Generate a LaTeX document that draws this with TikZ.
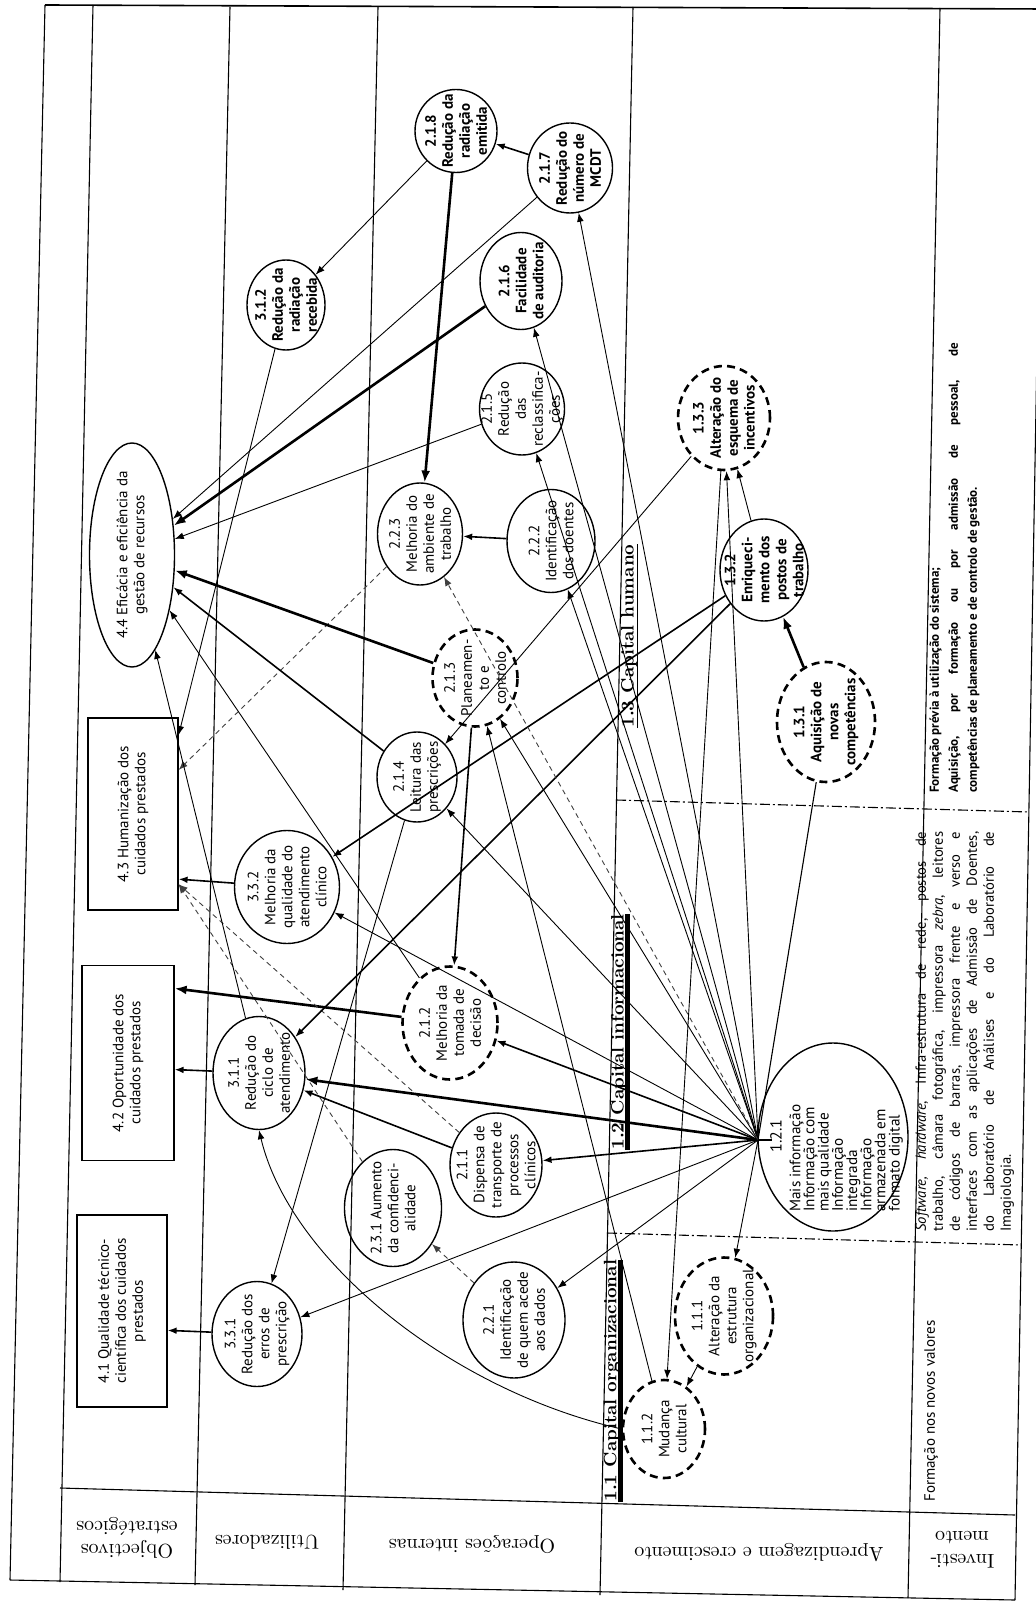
\documentclass[tikz,border=0pt]{standalone}
\usepackage{fontspec}
\newfontfamily\nodefont{PT Sans}
\usetikzlibrary{arrows.meta,shapes.geometric}
\begin{document}
\begin{tikzpicture}[x=0.5pt,y=-0.5pt,
  tline/.style={line width=0.55pt},
  sline/.style={line width=0.55pt, dash pattern=on 5pt off 1.5pt on 1pt off 1.5pt},
  ellnode/.style 2 args={draw, ellipse, line width=0.7pt, minimum width=#1*0.5pt, minimum height=#2*0.5pt, inner sep=0pt},
  dellnode/.style 2 args={draw, ellipse, line width=1.3pt, dash pattern=on 4pt off 2.6pt, minimum width=#1*0.5pt, minimum height=#2*0.5pt, inner sep=0pt},
  boxnode/.style 2 args={draw, rectangle, line width=0.6pt, minimum width=#1*0.5pt, minimum height=#2*0.5pt, inner sep=0pt},
  txt/.style={rotate=90, align=center, inner sep=0pt, font=\nodefont\fontsize{7.5}{8.5}\selectfont},
  txtb/.style={txt, font=\nodefont\bfseries\fontsize{7.5}{8.5}\selectfont},
  rowlab/.style={rotate=180, align=center, inner sep=0pt, font=\fontsize{10}{11.5}\selectfont},
  seclab/.style={rotate=90, anchor=west, inner sep=0pt, font=\bfseries\fontsize{9}{10}\selectfont},
  invtxt/.style={rotate=90, anchor=north west, inner sep=0pt},
  arrowtip/.style={-{Latex[length=4.5pt,width=3.4pt]}},
  con/.style={arrowtip, line width=0.45pt},
  conm/.style={arrowtip, line width=0.8pt},
  conk/.style={-{Latex[length=6pt,width=4.5pt]}, line width=1.3pt},
  cond/.style={arrowtip, line width=0.45pt, dash pattern=on 2.5pt off 2pt, black!75},
]
\fill[white] (0,0) rectangle (1036,1609);
\useasboundingbox (0,0) rectangle (1036,1609);

% ---------- table frame ----------
\draw[line width=0.8pt] (45,5) -- (1043,9);
\draw[tline] (45,5) -- (10,1580);
\draw[tline] (10,1580) -- (1015,1600);
\draw[tline] (1043,9) -- (1015,1600);
\draw[tline] (93,5) -- (60,1582);
\draw[tline] (230,7) -- (195,1585);
\draw[tline] (378,7) -- (343,1590);
\draw[tline] (633,7) -- (600,1595);
\draw[tline] (940,8) -- (908,1598);
\draw[tline] (60,1488) -- (1015,1515);
\draw[sline] (616,800) -- (1029,812);
\draw[sline] (607,1233) -- (1021,1245);

% ---------- row labels ----------
\node[rowlab] (r1) at (127,1538) {Objectivos\\estratégicos};
\node[rowlab] (r2) at (267,1542) {Utilizadores};
\node[rowlab] (r3) at (472,1545) {Operações internas};
\node[rowlab] (r4) at (759,1553) {Aprendizagem e crescimento};
\node[rowlab] (r5) at (962,1550) {Investi-\\mento};

% ---------- strategic objectives ----------
\node[ellnode={85}{224}] (n44) at (132,555) {};
\node[txt] (t44) at (n44) {4.4 Eficácia e eficiência da\\gestão de recursos};
\node[boxnode={90}{192}] (n43) at (133,814) {};
\node[txt] (t43) at (n43) {4.3 Humanização dos\\cuidados prestados};
\node[boxnode={92}{195}] (n42) at (128,1063) {};
\node[txt] (t42) at (n42) {4.2 Oportunidade dos\\cuidados prestados};
\node[boxnode={90}{192}] (n41) at (122,1311) {};
\node[txt] (t41) at (n41) {4.1 Qualidade técnico-\\científica dos cuidados\\prestados};

% ---------- users ----------
\node[ellnode={78}{90}] (n312) at (286,305) {};
\node[txtb] (t312) at (n312) {3.1.2\\Redução da\\radiação\\recebida};
\node[ellnode={105}{113}] (n332) at (287,887) {};
\node[txt] (t332) at (n332) {3.3.2\\Melhoria da\\qualidade do\\atendimento\\clínico};
\node[ellnode={92}{113}] (n311) at (259,1073) {};
\node[txt] (t311) at (n311) {3.1.1\\Redução do\\ciclo de\\atendimento};
\node[ellnode={90}{105}] (n331) at (257,1334) {};
\node[txt] (t331) at (n331) {3.3.1\\Redução dos\\erros de\\prescrição};

% ---------- internal operations ----------
\node[ellnode={82}{83}] (n218) at (456,131) {};
\node[txtb] (t218) at (n218) {2.1.8\\Redução da\\radiação\\emitida};
\node[ellnode={85}{90}] (n217) at (570,168) {};
\node[txtb] (t217) at (n217) {2.1.7\\Redução do\\número de\\MCDT};
\node[ellnode={82}{97}] (n216) at (521,281) {};
\node[txtb] (t216) at (n216) {2.1.6\\Facilidade\\de auditoria};
\node[ellnode={85}{92}] (n215) at (522,409) {};
\node[txt] (t215) at (n215) {2.1.5\\Redução\\das\\reclassifica-\\ções};
\node[ellnode={85}{102}] (n223) at (420,534) {};
\node[txt] (t223) at (n223) {2.2.3\\Melhoria do\\ambiente de\\trabalho};
\node[ellnode={88}{103}] (n222) at (551,541) {};
\node[txt] (t222) at (n222) {2.2.2\\Identificação\\dos doentes};
\node[dellnode={85}{97}] (n213) at (475,678) {};
\node[txt] (t213) at (n213) {2.1.3\\Planeamen-\\to e\\controlo};
\node[ellnode={80}{90}] (n214) at (417,777) {};
\node[txt] (t214) at (n214) {2.1.4\\Leitura das\\prescrições};
\node[dellnode={95}{113}] (n212) at (450,1023) {};
\node[txt] (t212) at (n212) {2.1.2\\Melhoria da\\tomada de\\decisão};
\node[ellnode={92}{104}] (n211) at (496,1165) {};
\node[txt] (t211) at (n211) {2.1.1\\Dispensa de\\transporte de\\processos\\clínicos};
\node[ellnode={97}{117}] (n231) at (393,1208) {};
\node[txt] (t231) at (n231) {2.3.1 Aumento\\da confidenci-\\alidade};
\node[ellnode={102}{116}] (n221) at (514,1320) {};
\node[txt] (t221) at (n221) {2.2.1\\Identificação\\de quem acede\\aos dados};

% ---------- learning and growth ----------
\node[seclab] (s13) at (629,728) {1.3 Capital humano};
\node[seclab] (s12) at (619,1150) {1.2 Capital informacional};
\node[seclab] (s11) at (612,1502) {1.1 Capital organizacional};
\draw[line width=0.9pt] (s13.south west) -- (s13.south east);
\draw[line width=2.2pt] (s12.south west) -- (s12.south east);
\draw[line width=2.2pt] (s11.south west) -- (s11.south east);

\node[dellnode={92}{104}] (n133) at (724,418) {};
\node[txtb] (t133) at (n133) {1.3.3\\Alteração do\\esquema de\\incentivos};
\node[ellnode={88}{102}] (n132) at (764,570) {};
\node[txtb] (t132) at (n132) {1.3.2\\Enriqueci-\\mento dos\\postos de\\trabalho};
\node[dellnode={98}{120}] (n131) at (826,722) {};
\node[txtb] (t131) at (n131) {1.3.1\\Aquisição de\\novas\\competências};
\node[ellnode={150}{188}] (n121) at (833,1137) {};
\coordinate (hub) at (758,1140);
\draw[tline] (hub) -- ++(14,0);
\node[txt, font=\nodefont\fontsize{8}{9}\selectfont] (t121n) at (776,1136) {1.2.1};
\node[rotate=90, anchor=north west, align=left, inner sep=0pt, font=\nodefont\fontsize{7.6}{7.1}\selectfont] (t121) at (789,1212)
  {Mais informação\\Informação com\\mais qualidade\\Informação\\integrada\\Informação\\armazenada em\\formato digital};
\node[dellnode={98}{117}] (n111) at (724,1316) {};
\node[txt] (t111) at (n111) {1.1.1\\Alteração da\\estrutura\\organizacional};
\node[dellnode={82}{98}] (n112) at (664,1429) {};
\node[txt] (t112) at (n112) {1.1.2\\Mudança\\cultural};

% ---------- investment ----------
\node[invtxt, font=\nodefont\bfseries\fontsize{6.5}{9.5}\selectfont] (ia) at (929,793)
  {\parbox{225pt}{Formação prévia à utilização do sistema;\\
   Aquisição, por formação ou por admissão de pessoal, de\linebreak
   competências de planeamento e de controlo de gestão.}};
\node[invtxt, font=\nodefont\fontsize{7.3}{8.5}\selectfont] (ib) at (915,1232)
  {\parbox{200pt}{\textit{Software, hardware}, Infra-estrutura de rede, postos de\linebreak
   trabalho, câmara fotográfica, impressora \textit{zebra}, leitores\linebreak
   de códigos de barras, impressora frente e verso e\linebreak
   interfaces com as aplicações de Admissão de Doentes,\linebreak
   do Laboratório de Análises e do Laboratório de\linebreak
   Imagiologia.}};
\node[rotate=90, anchor=west, inner sep=0pt, font=\nodefont\fontsize{7.5}{9}\selectfont] (ic) at (931,1502)
  {Formação nos novos valores};

% ---------- connectors ----------
\draw[conm] (n331) -- (n41.-23);
\draw[conm] (n311) -- (n42.-8);
\draw[conk] (n212) -- (n42.58);
\draw[conm] (n332) -- (n43.-55);
\draw[con] (n312) -- (n43.60);
\draw[cond] (n223) -- (n43.44);
\draw[cond] (n231) -- (n43.-57);
\draw[cond] (n211) -- (n43.-57);
\draw[con] (n217) -- (n44);
\draw[conk] (n216) -- (n44);
\draw[con] (n215) -- (n44);
\draw[conk] (n213) -- (n44);
\draw[conm] (n214) -- (n44);
\draw[con] (n212) -- (n44);
\draw[con] (n311) -- (n44);
\draw[con] (n218) -- (n312);
\draw[conm] (n217) -- (n218);
\draw[conk] (n218) -- (n223);
\draw[conm] (n222) -- (n223);
\draw[conm] (n213) -- (n212);
\draw[conm] (n211) -- (n311);
\draw[con] (n214) -- (n331);
\draw[cond] (n221) -- (n231);
\draw[conk] (n131) -- (n132);
\draw[con] (n132) -- (n133);
\draw[conm] (n132) -- (n332);
\draw[conm] (n132) -- (n311);
\draw[con] (n133) -- (n112);
\draw[con] (n111) -- (n112);
\draw[con] (n112.west) .. controls (450,1390) and (290,1260) .. (n311.south);
\draw[con] (n112) -- (n213);
\draw[con] (n133) -- (n214);
\foreach \tg in {n217,n216,n215,n222,n213,n214,n332,n221,n331,n111,n133}
  \draw[con] (hub) -- (\tg);
\draw[conm] (hub) -- (n212);
\draw[conk] (hub) -- (n311);
\draw[conm] (hub) -- (n211);
\draw[cond] (hub) -- (n223);
\draw[tline] (hub) -- (n131);
\end{tikzpicture}
\end{document}
